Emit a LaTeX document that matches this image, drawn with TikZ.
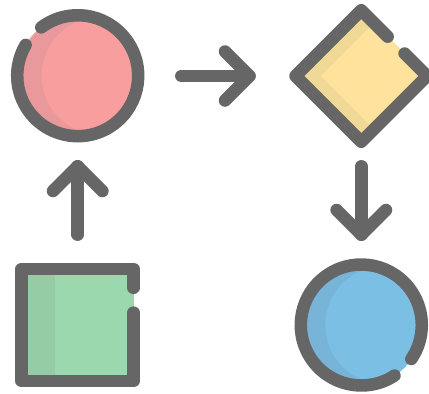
\documentclass[tikz,border=0pt]{standalone}
\tikzset{
  outline/.style={draw=ink,line width=12.5pt,line cap=round,line join=round},
  connector/.style={outline}
}
\definecolor{ink}{HTML}{666666}
\definecolor{redlight}{HTML}{F99E9F}
\definecolor{reddark}{HTML}{E9989B}
\definecolor{yellowlight}{HTML}{FFE29C}
\definecolor{yellowdark}{HTML}{F0D897}
\definecolor{greenlight}{HTML}{9CD8AD}
\definecolor{greendark}{HTML}{96CCA5}
\definecolor{bluelight}{HTML}{7BBFE4}
\definecolor{bluedark}{HTML}{78B4D8}
\begin{document}
\begin{tikzpicture}[x=1pt,y=-1pt]
\useasboundingbox (0,0) rectangle (429,394);
% centres
\coordinate (rc) at (77.7,75.7);
\coordinate (dc) at (361.3,76);
\coordinate (bc) at (361.3,325);
% red circle
\fill[reddark] (rc) circle[radius=60.5pt];
\begin{scope}
  \clip (rc) circle[radius=60.5pt];
  \fill[redlight] (100.6,75.7) circle[radius=58.9pt];
\end{scope}
\fill[redlight] (rc) ++(127:60.5pt) arc[start angle=127,end angle=149.4,radius=60.5pt] -- cycle;
\draw[outline] (rc) ++(127:60.5pt) arc[start angle=127,end angle=-210.6,radius=60.5pt];
% diamond
\fill[yellowdark] (361.3,10.2) -- (427.1,76) -- (361.3,141.8) -- (295.5,76) -- cycle;
\begin{scope}
  \clip (361.3,10.2) -- (427.1,76) -- (361.3,141.8) -- (295.5,76) -- cycle;
  \fill[yellowlight] (320.7,76) -- (400,-3.3) -- (480,76) -- (400,155.3) -- cycle;
\end{scope}
\draw[outline] (387.7,36.7) -- (361.3,10.2) -- (295.5,76) -- (361.3,141.8) -- (427.1,76) -- (404.6,53.5);
% green square
\fill[greenlight] (21.5,268.9) rectangle (133.5,381);
\fill[greendark] (21.5,268.9) rectangle (55,381);
\draw[outline] (133.5,287.8) -- (133.5,268.9) -- (21.5,268.9) -- (21.5,381) -- (133.5,381) -- (133.5,312.6);
% blue circle
\fill[bluedark] (bc) circle[radius=60.5pt];
\begin{scope}
  \clip (bc) circle[radius=60.5pt];
  \fill[bluelight] (384.2,325) circle[radius=58.9pt];
\end{scope}
\fill[bluelight] (bc) ++(-56.7:60.5pt) arc[start angle=-56.7,end angle=-34.2,radius=60.5pt] -- cycle;
\draw[outline] (bc) ++(-56.7:60.5pt) arc[start angle=-56.7,end angle=-394.2,radius=60.5pt];
% arrows
\coordinate (rs) at (181.3,76);
\coordinate (rt) at (249.5,76);
\coordinate (ra) at (225,51.5);
\coordinate (rb) at (225,100.5);
\draw[connector] (rs) -- (rt);
\draw[connector] (ra) -- (rt) -- (rb);
\coordinate (us) at (77.7,234.7);
\coordinate (ut) at (77.7,166.3);
\coordinate (ua) at (53,191);
\coordinate (ub) at (102.4,191);
\draw[connector] (us) -- (ut);
\draw[connector] (ua) -- (ut) -- (ub);
\coordinate (ds) at (361.3,166.3);
\coordinate (dt) at (361.3,234.7);
\coordinate (da) at (336.6,210);
\coordinate (db) at (386,210);
\draw[connector] (ds) -- (dt);
\draw[connector] (da) -- (dt) -- (db);
\end{tikzpicture}
\end{document}
